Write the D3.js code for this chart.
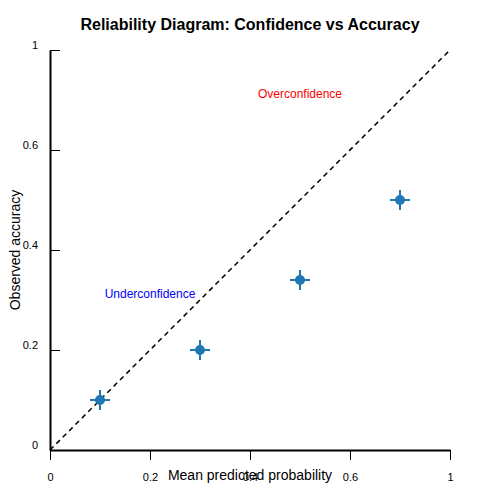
<!DOCTYPE html>
<html><head><meta charset="utf-8">
<script src="https://cdn.jsdelivr.net/npm/d3@7"></script>
<style>body{margin:0;background:#fff}text{font-family:"Liberation Sans",Arial,sans-serif}</style>
</head><body><svg id="chart" width="500" height="500"></svg>
<script>
const predicted = [0.1, 0.3, 0.5, 0.7];
const accuracy = [0.1, 0.2, 0.34, 0.5];
const errX = [0.02, 0.02, 0.02, 0.02];
const errY = [0.02, 0.02, 0.02, 0.02];
const tickValues = [0, 0.2, 0.4, 0.6, 0.8];
const tickLabels = ["0", "0.2", "0.4", "0.6", "1"];

const svg = d3.select("#chart");
const x = d3.scaleLinear().domain([0, 0.8]).range([50, 450]);
const y = d3.scaleLinear().domain([0, 0.8]).range([450, 50]);

svg.append("text").attr("x", 250).attr("y", 30).attr("text-anchor", "middle")
  .attr("font-size", 16).attr("font-weight", "bold")
  .text("Reliability Diagram: Confidence vs Accuracy");

// axes
const xAxis = svg.append("g").attr("transform", "translate(0,450)")
  .call(d3.axisBottom(x).tickValues(tickValues).tickFormat((d, i) => tickLabels[i]).tickSize(10).tickSizeOuter(0));
xAxis.select(".domain").attr("stroke-width", 2);
xAxis.selectAll("text").attr("font-size", 11).attr("dy", "1.6em");

const yAxis = svg.append("g").attr("transform", "translate(50,0)")
  .call(d3.axisLeft(y).tickValues(tickValues).tickFormat((d, i) => tickLabels[i]).tickSize(-10).tickSizeOuter(0));
yAxis.select(".domain").attr("stroke-width", 2);
yAxis.selectAll("text").attr("font-size", 11).attr("x", -12).attr("dy", "-0.1em");

svg.append("text").attr("x", 250).attr("y", 480).attr("text-anchor", "middle")
  .attr("font-size", 14).text("Mean predicted probability");
svg.append("text").attr("transform", "translate(20,250) rotate(-90)").attr("text-anchor", "middle")
  .attr("font-size", 14).text("Observed accuracy");

// diagonal
svg.append("line").attr("x1", x(0)).attr("y1", y(0)).attr("x2", x(0.8)).attr("y2", y(0.8))
  .attr("stroke", "#000").attr("stroke-width", 1.5).attr("stroke-dasharray", "5,4");

const data = predicted.map((p, i) => ({ p, a: accuracy[i], ex: errX[i], ey: errY[i] }));
const g = svg.append("g");
g.selectAll(".ex").data(data).enter().append("line")
  .attr("x1", d => x(d.p - d.ex)).attr("x2", d => x(d.p + d.ex))
  .attr("y1", d => y(d.a)).attr("y2", d => y(d.a))
  .attr("stroke", "#1f77b4").attr("stroke-width", 2);
g.selectAll(".ey").data(data).enter().append("line")
  .attr("x1", d => x(d.p)).attr("x2", d => x(d.p))
  .attr("y1", d => y(d.a - d.ey)).attr("y2", d => y(d.a + d.ey))
  .attr("stroke", "#1f77b4").attr("stroke-width", 2);
g.selectAll("circle").data(data).enter().append("circle")
  .attr("cx", d => x(d.p)).attr("cy", d => y(d.a)).attr("r", 5).attr("fill", "#1f77b4");

svg.append("text").attr("x", x(0.5)).attr("y", y(0.705)).attr("text-anchor", "middle")
  .attr("font-size", 12).attr("fill", "red").text("Overconfidence");
svg.append("text").attr("x", x(0.2)).attr("y", y(0.305)).attr("text-anchor", "middle")
  .attr("font-size", 12).attr("fill", "blue").text("Underconfidence");
</script></body></html>
